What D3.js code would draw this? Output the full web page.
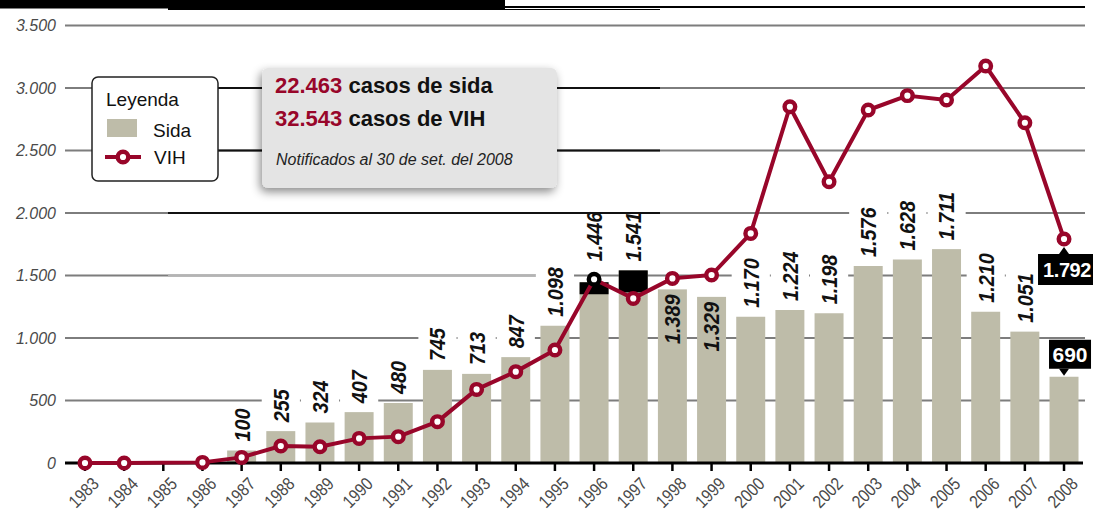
<!DOCTYPE html>
<html>
<head>
<meta charset="utf-8">
<script src="https://cdn.jsdelivr.net/npm/d3@7"></script>
<style>
  html, body { margin: 0; padding: 0; background: #fff; }
  svg { display: block; font-family: "Liberation Sans", Arial, sans-serif; }
</style>
</head>
<body>
<div id="chart"></div>
<script>
'use strict';

// Data
const years = ['1983', '1984', '1985', '1986', '1987', '1988', '1989', '1990', '1991', '1992',
    '1993', '1994', '1995', '1996', '1997', '1998', '1999', '2000', '2001', '2002',
    '2003', '2004', '2005', '2006', '2007', '2008'];
const sida = [0, 0, 0, 0, 100, 255, 324, 407, 480, 745,
    713, 847, 1098, 1446, 1541, 1389, 1329, 1170, 1224, 1198,
    1576, 1628, 1711, 1210, 1051, 690];
const vih = [0, 0, null, 5, 45, 136, 130, 197, 211, 331,
    589, 731, 904, 1470, 1317, 1477, 1504, 1837, 2850, 2250,
    2824, 2939, 2904, 3176, 2722, 1792];
const yTicks = [0, 500, 1000, 1500, 2000, 2500, 3000, 3500];
const totalSida = 22463;
const totalVih = 32543;
const noteText = 'Notificados al 30 de set. del 2008';

const width = 1093, height = 512;
const RED = '#98062a';
const BAR = '#bebca9';

const fmt = d3.formatLocale({ decimal: ',', thousands: '.', grouping: [3], currency: ['', ''] }).format(',');

const svg = d3.select('#chart').append('svg')
    .attr('width', width)
    .attr('height', height);

const defs = svg.append('defs');
const shadow = defs.append('filter').attr('id', 'shadow')
    .attr('x', '-20%').attr('y', '-30%').attr('width', '140%').attr('height', '170%');
shadow.append('feDropShadow')
    .attr('dx', -2).attr('dy', 4).attr('stdDeviation', 5)
    .attr('flood-color', '#000').attr('flood-opacity', 0.45);

// Scales
const x = d3.scaleBand()
    .domain(years)
    .range([65.4, 1083.6])
    .paddingInner(0.26)
    .paddingOuter(0.13);
const y = d3.scaleLinear()
    .domain([0, 3500])
    .range([463, 25.5]);
const cx = yr => x(yr) + x.bandwidth() / 2;

const rows = years.map((yr, i) => ({ year: yr, sida: sida[i], vih: vih[i] }));

// Header strip (cut off at the top of the picture)
svg.append('rect').attr('x', 0).attr('y', 0).attr('width', 505).attr('height', 8.5).attr('fill', '#000');
svg.append('rect').attr('x', 168).attr('y', 0).attr('width', 337).attr('height', 10).attr('fill', '#000');
svg.append('line').attr('x1', 505).attr('x2', 1085).attr('y1', 7).attr('y2', 7)
    .attr('stroke', '#000').attr('stroke-width', 2);
svg.append('line').attr('x1', 505).attr('x2', 660).attr('y1', 9.5).attr('y2', 9.5)
    .attr('stroke', '#000').attr('stroke-width', 1.2);

// Gridlines
const grid = svg.append('g');
grid.selectAll('line')
    .data(yTicks.filter(d => d > 0))
    .join('line')
    .attr('x1', 65).attr('x2', 1085)
    .attr('y1', d => y(d)).attr('y2', d => y(d))
    .attr('stroke', '#7d7d7d')
    .attr('stroke-width', 1.8);
// darker / lighter runs from the original print
grid.selectAll('line.dark')
    .data([2000, 2500, 3000])
    .join('line')
    .attr('class', 'dark')
    .attr('x1', 168).attr('x2', 660)
    .attr('y1', d => y(d)).attr('y2', d => y(d))
    .attr('stroke', '#111')
    .attr('stroke-width', 1.8);
grid.append('line')
    .attr('x1', 168).attr('x2', 540)
    .attr('y1', y(1500)).attr('y2', y(1500))
    .attr('stroke', '#b4b4b4')
    .attr('stroke-width', 1.8);

// Y tick labels
svg.append('g').selectAll('text')
    .data(yTicks)
    .join('text')
    .attr('x', 56)
    .attr('y', d => y(d))
    .attr('dy', '0.35em')
    .attr('text-anchor', 'end')
    .attr('font-size', 16)
    .attr('font-style', 'italic')
    .attr('fill', '#4a4a4a')
    .text(d => fmt(d));

// Bars
svg.append('g').selectAll('rect')
    .data(rows.filter(d => d.sida > 0))
    .join('rect')
    .attr('x', d => x(d.year))
    .attr('y', d => y(d.sida))
    .attr('width', x.bandwidth())
    .attr('height', d => y(0) - y(d.sida))
    .attr('fill', BAR);

// black blocks sitting on the 1996 and 1997 bars
const blocks = { '1996': 12, '1997': 22 };
svg.append('g').selectAll('rect')
    .data(rows.filter(d => blocks[d.year]))
    .join('rect')
    .attr('x', d => x(d.year))
    .attr('y', d => y(d.sida))
    .attr('width', x.bandwidth())
    .attr('height', d => blocks[d.year])
    .attr('fill', '#000');

// Bar value labels (rotated, condensed)
const inside = ['1998', '1999'];
const noBackground = ['1996', '1997'];
const extraLift = { '1996': 12 };
const labels = svg.append('g').selectAll('g')
    .data(rows.filter(d => d.sida > 0 && d.year !== '2008'))
    .join('g')
    .attr('transform', d => {
        const yy = inside.includes(d.year) ? y(d.sida) + 5 : y(d.sida) - 9 - (extraLift[d.year] || 0);
        return `translate(${cx(d.year)},${yy}) rotate(-90) scale(0.9,1)`;
    });
labels.append('text')
    .attr('dy', '0.36em')
    .attr('text-anchor', d => inside.includes(d.year) ? 'end' : 'start')
    .attr('font-size', 22)
    .attr('font-weight', 'bold')
    .attr('font-style', 'italic')
    .attr('fill', '#111')
    .text(d => fmt(d.sida));
// white backing that breaks the gridlines behind the labels
labels.filter(d => !inside.includes(d.year) && !noBackground.includes(d.year)).each(function () {
    const g = d3.select(this);
    const bb = g.select('text').node().getBBox();
    g.insert('rect', 'text')
        .attr('x', bb.x - 2).attr('y', bb.y - 7)
        .attr('width', bb.width + 4).attr('height', bb.height + 14)
        .attr('fill', '#fff');
});

// X axis
svg.append('line')
    .attr('x1', 65).attr('x2', 1083)
    .attr('y1', y(0)).attr('y2', y(0))
    .attr('stroke', '#000').attr('stroke-width', 3);
svg.append('g').selectAll('line')
    .data(years)
    .join('line')
    .attr('x1', d => cx(d)).attr('x2', d => cx(d))
    .attr('y1', y(0)).attr('y2', y(0) + 8)
    .attr('stroke', '#000').attr('stroke-width', 2.5);
svg.append('g').selectAll('text')
    .data(years)
    .join('text')
    .attr('transform', d => `translate(${cx(d) + 15},${y(0) + 22}) rotate(-45) scale(0.85,1)`)
    .attr('text-anchor', 'end')
    .attr('font-size', 18)
    .attr('fill', '#4a4a4a')
    .text(d => d);

// VIH line
const pts = rows.filter(d => d.vih !== null);
const lineGen = d3.line()
    .x(d => cx(d.year))
    .y(d => y(d.vih));
svg.append('path')
    .datum(pts)
    .attr('d', lineGen)
    .attr('fill', 'none')
    .attr('stroke', RED)
    .attr('stroke-width', 4)
    .attr('stroke-linejoin', 'round');
svg.append('g').selectAll('circle')
    .data(pts)
    .join('circle')
    .attr('cx', d => cx(d.year))
    .attr('cy', d => y(d.vih))
    .attr('r', 5.3)
    .attr('fill', '#fff')
    .attr('stroke', d => d.year === '1996' ? '#000' : RED)
    .attr('stroke-width', 4.4);

// Black value tags for 2008
const last = rows[rows.length - 1];
const tagV = svg.append('g').attr('transform', `translate(${cx(last.year)},${y(last.vih) + 8})`);
tagV.append('path').attr('d', 'M0,0 L5,7 L-5,7 Z').attr('fill', '#000');
tagV.append('rect').attr('x', -26).attr('y', 7).attr('width', 70).attr('height', 31).attr('fill', '#000');
tagV.append('text').attr('x', -21).attr('y', 30)
    .attr('font-size', 20).attr('font-weight', 'bold').attr('fill', '#fff')
    .attr('letter-spacing', -0.4)
    .text(fmt(last.vih));

const tagS = svg.append('g').attr('transform', `translate(${cx(last.year)},${y(last.sida) - 1})`);
tagS.append('path').attr('d', 'M0,0 L5,-7 L-5,-7 Z').attr('fill', '#000');
tagS.append('rect').attr('x', -15).attr('y', -36).attr('width', 42).attr('height', 29).attr('fill', '#000');
tagS.append('text').attr('x', 6).attr('y', -14)
    .attr('text-anchor', 'middle')
    .attr('font-size', 21).attr('font-weight', 'bold').attr('fill', '#fff')
    .text(fmt(last.sida));

// Legend
const legend = svg.append('g').attr('transform', 'translate(92,77)');
legend.append('rect')
    .attr('x', 0).attr('y', 0).attr('width', 126).attr('height', 104).attr('rx', 6)
    .attr('fill', '#fff').attr('stroke', '#222').attr('stroke-width', 1.5);
legend.append('text').attr('x', 14).attr('y', 29).attr('font-size', 19).attr('fill', '#111').text('Leyenda');
legend.append('rect').attr('x', 15).attr('y', 42).attr('width', 30).attr('height', 18).attr('fill', BAR);
legend.append('text').attr('x', 61).attr('y', 60).attr('font-size', 19).attr('fill', '#111').text('Sida');
legend.append('line').attr('x1', 13).attr('x2', 49).attr('y1', 80).attr('y2', 80)
    .attr('stroke', RED).attr('stroke-width', 4);
legend.append('circle').attr('cx', 31).attr('cy', 80).attr('r', 5.3)
    .attr('fill', '#fff').attr('stroke', RED).attr('stroke-width', 4.4);
legend.append('text').attr('x', 62).attr('y', 87).attr('font-size', 19).attr('fill', '#111').text('VIH');

// Totals box
const note = svg.append('g').attr('transform', 'translate(262,68)');
note.append('rect')
    .attr('width', 295).attr('height', 120).attr('rx', 6)
    .attr('fill', '#e4e4e4')
    .attr('filter', 'url(#shadow)');
const t1 = note.append('text').attr('x', 13).attr('y', 25).attr('font-size', 22).attr('font-weight', 'bold');
t1.append('tspan').attr('fill', RED).text(fmt(totalSida));
t1.append('tspan').attr('fill', '#111').text(' casos de sida');
const t2 = note.append('text').attr('x', 13).attr('y', 58).attr('font-size', 22).attr('font-weight', 'bold');
t2.append('tspan').attr('fill', RED).text(fmt(totalVih));
t2.append('tspan').attr('fill', '#111').text(' casos de VIH');
note.append('text').attr('x', 14).attr('y', 97)
    .attr('font-size', 16).attr('font-style', 'italic').attr('fill', '#222')
    .text(noteText);
</script>
</body>
</html>
